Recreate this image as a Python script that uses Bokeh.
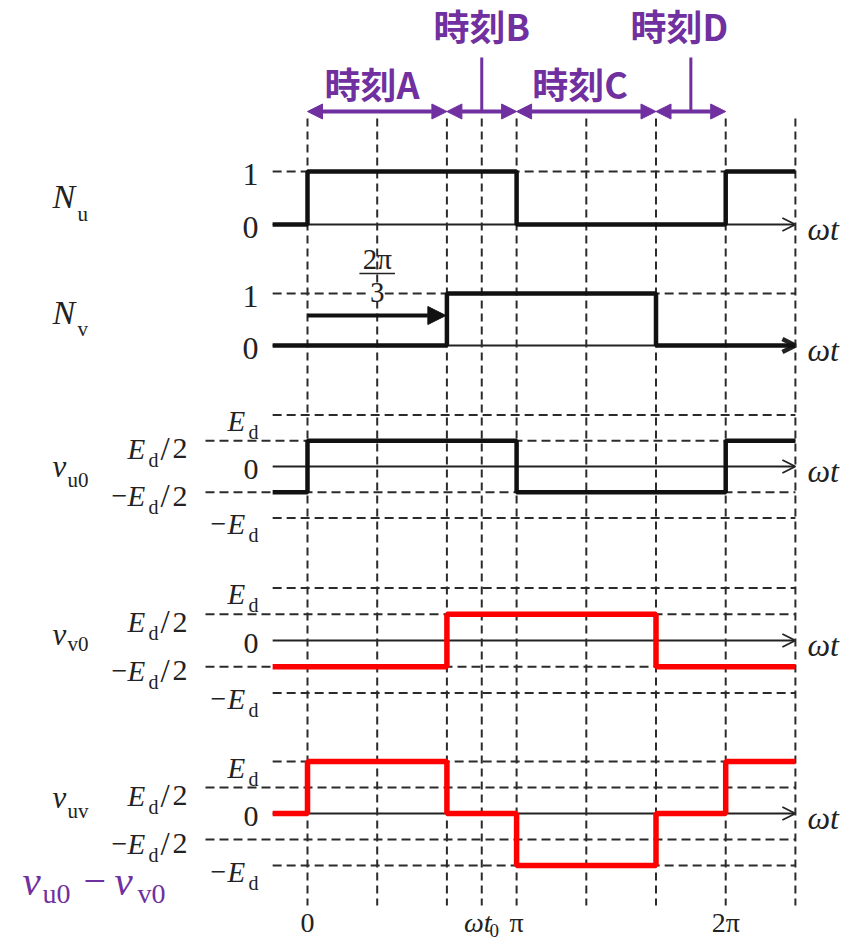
from bokeh.plotting import figure
from bokeh.models import Range1d, Arrow, OpenHead, NormalHead, Label
from bokeh.core.properties import value
from bokeh.embed import file_html
from bokeh.resources import INLINE

# ---- data (phase in units of pi) -------------------------------------------
grid_t = [0, 1/3, 2/3, 5/6, 1, 4/3, 5/3, 2, 7/3]
t_begin, t_end = -1/6, 7/3
wt0 = 5/6          # instant B
t_d = 11/6         # instant D

nu_edges = [-1/6, 0, 1, 2, 7/3]
nu_levels = [0, 1, 0, 1]
nv_edges = [-1/6, 2/3, 5/3, 7/3]
nv_levels = [0, 1, 0]
vu0_levels = [-0.5, 0.5, -0.5, 0.5]     # in units of Ed, on nu_edges
vv0_levels = [-0.5, 0.5, -0.5]          # in units of Ed, on nv_edges
vuv_edges = [-1/6, 0, 2/3, 1, 5/3, 2, 7/3]
vuv_levels = [0, 1, 0, -1, 0, 1]        # vu0 - vv0, in units of Ed

interval_names = ["時刻A", "時刻B", "時刻C", "時刻D"]
interval_edges = [0, 2/3, 1, 5/3, 2]

bottom_ticks = [0, 1, 2]
bottom_tick_labels = ["0", "π", "2π"]

# ---- layout -----------------------------------------------------------------
W, H = 853, 941
X0, XS = 307, 209.1            # pixel of phase 0, pixels per pi
INK = "#222222"
WAVE = "#111111"
GRID = "#2b2b2b"
RED = "#ff0000"
PURPLE = "#7030a0"
SERIF = "Liberation Serif"
CJK = "Noto Sans CJK JP"

# row baseline (pixel from top) and pixels per unit
ROW = {"Nu": (224, 53), "Nv": (345, 52), "vu0": (466, 51.5),
       "vv0": (640, 52.5), "vuv": (813, 52)}


def xd(px):
    return (px - X0) / XS


def yv(row, v):
    base, unit = ROW[row]
    return base - v * unit


def steps(edges, levels):
    xs, ys = [], []
    for i, lv in enumerate(levels):
        xs += [edges[i], edges[i + 1]]
        ys += [lv, lv]
    return xs, ys


p = figure(width=W, height=H, output_backend="svg", toolbar_location=None,
           x_range=Range1d(xd(0), xd(W)), y_range=Range1d(H, 0),
           x_axis_type=None, y_axis_type=None, min_border=0)
p.grid.visible = False
p.outline_line_color = None
p.background_fill_color = "white"
p.border_fill_color = "white"


def txt(x, y, s, size, style="normal", align="left", color=INK, font=SERIF,
        baseline="middle"):
    p.text(x=[x], y=[y], text=[s], text_font=value(font),
           text_font_size=f"{size}px", text_font_style=style,
           text_align=align, text_baseline=baseline, text_color=color)


# ---- vertical dashed grid ---------------------------------------------------
p.segment(x0=grid_t, y0=[118] * len(grid_t), x1=grid_t, y1=[905] * len(grid_t),
          line_color=GRID, line_width=2, line_dash="8 5")

# ---- horizontal reference lines per row ------------------------------------
label_gap = xd(205)
for row in ["Nu", "Nv"]:
    p.segment(x0=[t_begin], y0=[yv(row, 1)], x1=[t_end], y1=[yv(row, 1)],
              line_color=GRID, line_width=2, line_dash="9 5")
for row in ["vu0", "vv0", "vuv"]:
    for lv, x0 in [(1, t_begin), (0.5, label_gap), (-0.5, label_gap), (-1, t_begin)]:
        p.segment(x0=[x0], y0=[yv(row, lv)], x1=[t_end], y1=[yv(row, lv)],
                  line_color=GRID, line_width=2, line_dash="9 5")

# zero axes with open arrow heads, kept beneath the waveforms
for row in ["Nu", "Nv", "vu0", "vv0", "vuv"]:
    y0 = yv(row, 0)
    lw = 4.5 if row == "Nv" else 1.8
    p.add_layout(Arrow(end=OpenHead(size=13, line_width=lw, line_color=INK),
                       x_start=t_begin, y_start=y0, x_end=t_end, y_end=y0,
                       line_width=1.8, line_color=INK, level="underlay"))

# ---- waveforms --------------------------------------------------------------
xs, ys = steps(nu_edges, nu_levels)
p.line(xs, [yv("Nu", v) for v in ys], line_color=WAVE, line_width=4.5)
xs, ys = steps(nv_edges, nv_levels)
p.line(xs, [yv("Nv", v) for v in ys], line_color=WAVE, line_width=4.5)
xs, ys = steps(nu_edges, vu0_levels)
p.line(xs, [yv("vu0", v) for v in ys], line_color=WAVE, line_width=4.5)
xs, ys = steps(nv_edges, vv0_levels)
p.line(xs, [yv("vv0", v) for v in ys], line_color=RED, line_width=5.5)
xs, ys = steps(vuv_edges, vuv_levels)
p.line(xs, [yv("vuv", v) for v in ys], line_color=RED, line_width=5.5)

# ---- 2pi/3 phase shift annotation ------------------------------------------
mid = nv_edges[1] / 2
txt(mid, 258, "2π", 29, align="center")
p.segment(x0=[mid - 0.085], y0=[273], x1=[mid + 0.085], y1=[273],
          line_color=INK, line_width=1.5)
p.add_layout(Label(x=mid, y=yv("Nv", 1) - 1, text="3", text_align="center",
                   text_baseline="middle", text_font=SERIF, text_font_size="29px",
                   text_color=INK, background_fill_color="white",
                   border_line_color=None))
p.add_layout(Arrow(end=NormalHead(size=18, fill_color=WAVE, line_color=WAVE),
                   x_start=0, y_start=315, x_end=nv_edges[1] - 0.005, y_end=315,
                   line_width=4, line_color=WAVE))

# ---- row names --------------------------------------------------------------
txt(xd(52), 196, "N", 34, "italic")
txt(xd(77), 213, "u", 21)
txt(xd(52), 312, "N", 34, "italic")
txt(xd(77), 328, "v", 21)
txt(xd(52), 466, "v", 31, "italic")
txt(xd(67), 479, "u0", 21)
txt(xd(52), 634, "v", 31, "italic")
txt(xd(67), 643, "v0", 21)
txt(xd(52), 797, "v", 31, "italic")
txt(xd(67), 810, "uv", 21)

# purple formula
txt(xd(22), 880, "v", 41, "italic", color=PURPLE)
txt(xd(42), 893, "u0", 28, color=PURPLE)
txt(xd(83), 880, "−", 40, color=PURPLE)
txt(xd(114), 880, "v", 41, "italic", color=PURPLE)
txt(xd(137), 893, "v0", 28, color=PURPLE)

# ---- level labels -----------------------------------------------------------
for row in ["Nu", "Nv"]:
    txt(xd(258), yv(row, 1) + 3, "1", 32, align="right")
    txt(xd(258), yv(row, 0) + 3, "0", 32, align="right")

for row in ["vu0", "vv0", "vuv"]:
    # Ed
    y = yv(row, 1) + 6
    txt(xd(227), y, "E", 29, "italic")
    txt(xd(248), y + 11, "d", 20)
    # Ed/2
    y = yv(row, 0.5) + 8
    txt(xd(127), y, "E", 29, "italic")
    txt(xd(148), y + 11, "d", 20)
    txt(xd(160), y, "/", 33)
    txt(xd(172), y, "2", 30)
    # 0
    txt(xd(258), yv(row, 0) + 3, "0", 30, align="right")
    # -Ed/2
    y = yv(row, -0.5) + 4
    txt(xd(111), y, "−", 28)
    txt(xd(127), y, "E", 29, "italic")
    txt(xd(148), y + 11, "d", 20)
    txt(xd(160), y, "/", 33)
    txt(xd(172), y, "2", 30)
    # -Ed
    y = yv(row, -1) + 6
    txt(xd(210), y, "−", 28)
    txt(xd(227), y, "E", 29, "italic")
    txt(xd(248), y + 11, "d", 20)

# omega-t labels at the right of each axis
for row in ["Nu", "Nv", "vu0", "vv0", "vuv"]:
    txt(xd(807), yv(row, 0) + 4, "ωt", 32, "italic")

# ---- bottom phase labels ----------------------------------------------------
for t, s in zip(bottom_ticks, bottom_tick_labels):
    txt(t, 922, s, 28, align="center")
txt(xd(491), 922, "ωt", 28, "italic", align="right")
txt(xd(489), 930, "0", 19)

# ---- instants A-D -----------------------------------------------------------
arrow_y = 111
for a, b in zip(interval_edges[:-1], interval_edges[1:]):
    p.add_layout(Arrow(start=NormalHead(size=15, fill_color=PURPLE, line_color=PURPLE),
                       end=NormalHead(size=15, fill_color=PURPLE, line_color=PURPLE),
                       x_start=a, y_start=arrow_y, x_end=b, y_end=arrow_y,
                       line_width=4, line_color=PURPLE))
p.segment(x0=[wt0, t_d], y0=[57, 57], x1=[wt0, t_d], y1=[arrow_y, arrow_y],
          line_color=PURPLE, line_width=3)

name_x = [(interval_edges[0] + interval_edges[1]) / 2 - 0.025, wt0,
          (interval_edges[2] + interval_edges[3]) / 2 - 0.03, t_d - 0.055]
name_y = [82, 24, 82, 24]
for x, y, s in zip(name_x, name_y, interval_names):
    txt(x, y, s, 36, "bold", align="center", color=PURPLE, font=CJK)

open("out.html", "w").write(file_html(p, INLINE))
